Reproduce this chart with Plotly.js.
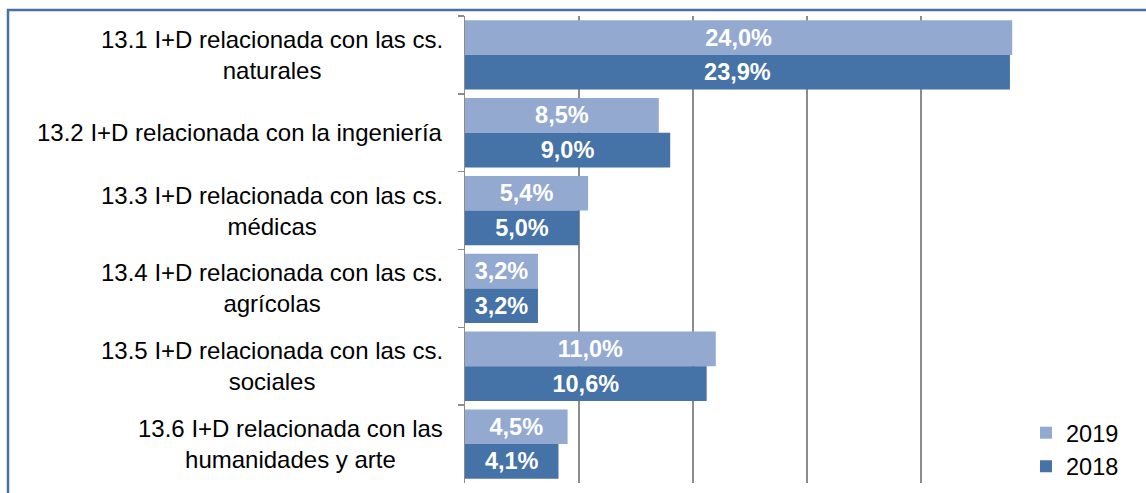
<!DOCTYPE html>
<html>
<head>
<meta charset="utf-8">
<script src="https://cdn.plot.ly/plotly-3.0.1.min.js"></script>
<style>html,body{margin:0;padding:0;background:#fff;}#chart{width:1146px;height:493px;}</style>
</head>
<body>
<div id="chart"></div>
<script>
var categories = [
  "13.1 I+D relacionada con las cs.<br>naturales",
  "13.2 I+D relacionada con la ingeniería",
  "13.3 I+D relacionada con las cs.<br>médicas",
  "13.4 I+D relacionada con las cs.<br>agrícolas",
  "13.5 I+D relacionada con las cs.<br>sociales",
  "13.6 I+D relacionada con las<br>humanidades y arte"
];
var values2019 = [24.0, 8.5, 5.4, 3.2, 11.0, 4.5];
var values2018 = [23.9, 9.0, 5.0, 3.2, 10.6, 4.1];
var seriesNames = ["2019", "2018"];

function fmt(v){ return v.toFixed(1).replace('.', ',') + '%'; }

var FONT = '"Liberation Sans", Arial, sans-serif';
var labelFont = {family: FONT, size: 23.5, color: '#ffffff', weight: 'bold'};

var traces = [
  {type:'bar', orientation:'h', name:seriesNames[0], legendgroup:'a', y:categories, x:values2019,
   text:values2019.map(fmt), textposition:'inside', insidetextanchor:'middle', constraintext:'none',
   textfont:labelFont, marker:{color:'#94A9D0'}, hoverinfo:'x'},
  {type:'bar', orientation:'h', name:seriesNames[1], legendgroup:'b', y:categories, x:values2018,
   text:values2018.map(fmt), textposition:'inside', insidetextanchor:'middle', constraintext:'none',
   textfont:labelFont, marker:{color:'#4572A7'}, hoverinfo:'x'}
];

var W = 1146, H = 493, L = 465, R = 1035, T = 16, B = 489;
function px(x){ return (x - L) / (R - L); }
function py(y){ return (B - y) / (B - T); }

var annotations = categories.map(function(c){
  return {xref:'paper', yref:'y', x:0, y:c, xanchor:'right', yanchor:'middle', xshift:-20,
    text:c, showarrow:false, align:'center', font:{family:FONT, size:24, color:'#000000'}};
});

var layout = {
  width:W, height:H,
  margin:{l:L, r:W-R, t:T, b:H-B, pad:0},
  paper_bgcolor:'#ffffff', plot_bgcolor:'#ffffff',
  barmode:'group', bargap:0.11, bargroupgap:0,
  showlegend:true,
  legend:{x:px(1026), y:py(416), xanchor:'left', yanchor:'top', tracegroupgap:5,
    font:{family:FONT, size:23.5, color:'#000000'}, bgcolor:'rgba(0,0,0,0)', traceorder:'normal'},
  xaxis:{range:[0,25], dtick:5, showgrid:true, gridcolor:'#8C8C8C', gridwidth:1.5,
    showticklabels:false, zeroline:false, showline:false, ticks:'', fixedrange:true},
  yaxis:{type:'category', autorange:'reversed', showticklabels:false, showline:true,
    linecolor:'#8C8C8C', linewidth:1.5, ticks:'outside', tickson:'boundaries', ticklen:6,
    tickcolor:'#8C8C8C', tickwidth:1.5, showgrid:false, zeroline:false, fixedrange:true},
  annotations:annotations,
  shapes:[{type:'rect', xref:'paper', yref:'paper', x0:px(8), x1:px(1170), y0:py(10), y1:py(520),
    line:{color:'#4A6FA5', width:2.5}, fillcolor:'rgba(0,0,0,0)', layer:'above'}]
};

Plotly.newPlot('chart', traces, layout, {displayModeBar:false, staticPlot:true});
</script>
</body>
</html>
